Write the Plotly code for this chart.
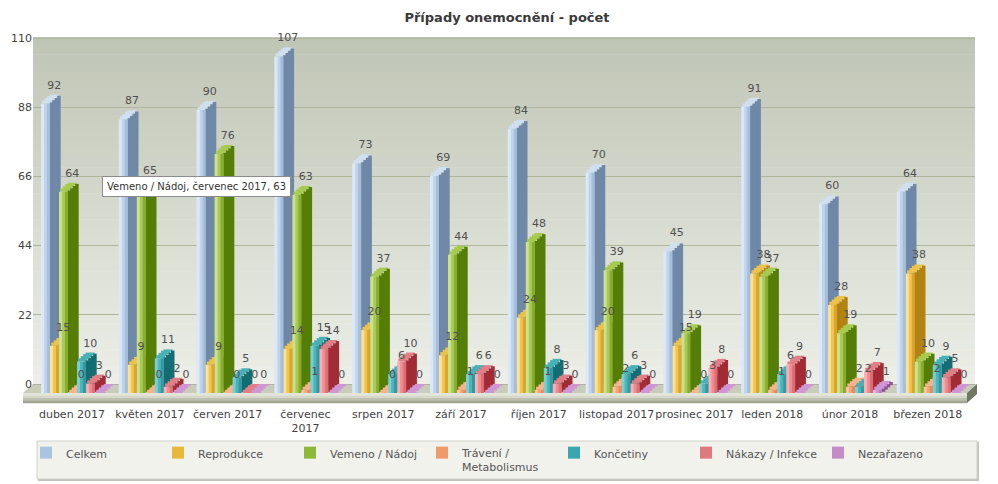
import plotly.graph_objects as go

# ---------------- data ----------------
months = ["duben 2017", "květen 2017", "červen 2017", "červenec 2017", "srpen 2017",
          "září 2017", "říjen 2017", "listopad 2017", "prosinec 2017", "leden 2018",
          "únor 2018", "březen 2018"]
month_ticks = ["duben 2017", "květen 2017", "červen 2017", "červenec<br>2017", "srpen 2017",
               "září 2017", "říjen 2017", "listopad 2017", "prosinec 2017", "leden 2018",
               "únor 2018", "březen 2018"]
series_names = ["Celkem", "Reprodukce", "Vemeno / Nádoj", "Trávení /<br>Metabolismus",
                "Končetiny", "Nákazy / Infekce", "Nezařazeno"]
celkem = [92, 87, 90, 107, 73, 69, 84, 70, 45, 91, 60, 64]
reprodukce = [15, 9, 9, 14, 20, 12, 24, 20, 15, 38, 28, 38]
vemeno = [64, 65, 76, 63, 37, 44, 48, 39, 19, 37, 19, 10]
traveni = [0, 0, 0, 1, 0, 1, 1, 2, 0, 1, 2, 2]
koncetiny = [10, 11, 5, 15, 6, 6, 8, 6, 3, 6, 2, 9]
nakazy = [3, 2, 0, 14, 10, 6, 3, 3, 8, 9, 7, 5]
nezarazeno = [0, 0, 0, 0, 0, 0, 0, 0, 0, 0, 1, 0]
y_ticks = [0, 22, 44, 66, 88, 110]
title_text = "Případy onemocnění - počet"
tooltip_text = "Vemeno / Nádoj, červenec 2017, 63"

series_values = [celkem, reprodukce, vemeno, traveni, koncetiny, nakazy, nezarazeno]

# ---------------- styles ----------------
front_cols = [
    ["#dbe9f7", "#bfd4eb", "#a4bedb"],
    ["#fbe29a", "#f1c54e", "#dca42a"],
    ["#cbe18c", "#a9ca5a", "#88ad2e"],
    ["#fbc3a2", "#f5a476", "#ea8a5a"],
    ["#7ecdd3", "#4eb4bb", "#2e9ba3"],
    ["#f7b1b5", "#ee8c92", "#de6d74"],
    ["#e3b7e4", "#d097d3", "#ba7cc0"],
]
side_cols = ["#6f88a8", "#b28310", "#557e06", "#c9622f", "#136d73", "#a22b35", "#8d4f95"]
top_cols = ["#cfe0f0", "#edc24a", "#a6cb50", "#f6b48c", "#48b0b7", "#e27f86", "#cf96d5"]
legend_cols = ["#a9c4e0", "#e8b83a", "#8fb83a", "#ef9a6a", "#3aa7ae", "#e07880", "#c48ac9"]

FONT = "DejaVu Sans"
PX = 77.8            # pixels per category
W = 9 / PX           # front face width (category units)
DX = 10 / PX         # depth, horizontal
D = 9 / 3.145        # depth, vertical (value units)
NS = 4               # slices for side/top faces
OV = 1.0 / PX        # small overlap to hide seams

fig = go.Figure()

for j, (name, vals) in enumerate(zip(series_names, series_values)):
    off = (-31 + 9 * j) / PX
    # top face (staircase)
    for k in range(NS):
        tm = (k + 0.5) / NS
        last = k == NS - 1
        fig.add_trace(go.Bar(
            x=months, y=[D / NS + (0 if last else 0.3) for v in vals],
            base=[v - D + k * D / NS for v in vals],
            offset=off + tm * DX, width=W, marker=dict(color=top_cols[j], line=dict(width=0)),
            showlegend=False, hoverinfo="skip",
        ))
    # side face (staircase)
    for k in range(NS):
        tm = (k + 0.5) / NS
        fig.add_trace(go.Bar(
            x=months, y=[v for v in vals], base=[-D + tm * D] * len(vals),
            offset=off + W - OV * 0.3 + k * DX / NS, width=DX / NS + OV,
            marker=dict(color=side_cols[j], line=dict(width=0)),
            showlegend=False, hoverinfo="skip",
        ))
    # front face in three shaded strips
    for k in range(3):
        fig.add_trace(go.Bar(
            x=months, y=vals, base=[-D] * len(vals),
            offset=off + k * W / 3, width=W / 3 + (OV if k < 2 else 0),
            marker=dict(color=front_cols[j][k], line=dict(width=0)),
            name=name, legendgroup=name,
            showlegend=False, hoverinfo="skip",
        ))
    # legend entry
    fig.add_trace(go.Bar(
        x=[months[0]], y=[None], name=name, legendgroup=name,
        marker=dict(color=legend_cols[j], line=dict(width=0)), showlegend=True, hoverinfo="skip",
    ))

# value labels, drawn above all bars
for j, vals in enumerate(series_values):
    off = (-31 + 9 * j) / PX
    tm = (NS - 0.5) / NS
    fig.add_trace(go.Bar(
        x=months, y=[D / NS] * len(vals), base=[v - D / NS for v in vals],
        offset=off + tm * DX, width=W, marker=dict(color="rgba(0,0,0,0)", line=dict(width=0)),
        showlegend=False, hoverinfo="skip",
        text=[str(v) for v in vals], textposition="outside",
        textangle=0, constraintext="none", cliponaxis=False,
        outsidetextfont=dict(family=FONT, size=11, color="#505050"),
    ))

# ---------------- decoration (wall, floor, legend box) ----------------
# the page body has an 8px margin, so the figure is 8px smaller than the window
def px_x(p):
    return (p - 33) / 942


def px_y(p):
    return (406 - p) / 376


def lerp(c1, c2, t):
    return "rgb(%d,%d,%d)" % tuple(round(a + (b - a) * t) for a, b in zip(c1, c2))


shapes = []
NB = 40
top_c, bot_c = (192, 198, 182), (236, 238, 231)
for i in range(NB):
    y0 = 37 + (384 - 37) * i / NB
    y1 = 37 + (384 - 37) * (i + 1) / NB + 0.5
    shapes.append(dict(type="rect", xref="paper", yref="paper", layer="below",
                       x0=0, x1=1, y0=px_y(y0), y1=px_y(y1),
                       fillcolor=lerp(top_c, bot_c, i / (NB - 1)), line=dict(width=0)))


def path(pts):
    return "M " + " L ".join("%.5f,%.5f" % (px_x(a), px_y(b)) for a, b in pts) + " Z"


# floor top surface
shapes.append(dict(type="path", xref="paper", yref="paper", layer="below",
                   path=path([(33, 384), (977, 384), (967, 393), (23, 393)]),
                   fillcolor="#c9ccb9", line=dict(width=0)))
# floor front slab (gradient)
slab = [(228, 229, 218), (214, 216, 202), (190, 193, 176), (160, 164, 145)]
for i, c in enumerate(slab):
    y0 = 393 + 10 * i / len(slab)
    y1 = 393 + 10 * (i + 1) / len(slab) + 0.3
    shapes.append(dict(type="path", xref="paper", yref="paper", layer="below",
                       path=path([(23, y0), (967, y0), (967, y1), (23, y1)]),
                       fillcolor="rgb(%d,%d,%d)" % c, line=dict(width=0)))
# floor right end
shapes.append(dict(type="path", xref="paper", yref="paper", layer="below",
                   path=path([(967, 393), (977, 384), (977, 394), (967, 403)]),
                   fillcolor="#707760", line=dict(width=0)))
# legend box with shadow
shapes.append(dict(type="rect", xref="paper", yref="paper", layer="below",
                   x0=px_x(38), x1=px_x(979), y0=px_y(442), y1=px_y(481),
                   fillcolor="#c4c4bc", line=dict(width=0)))
shapes.append(dict(type="rect", xref="paper", yref="paper", layer="below",
                   x0=px_x(37), x1=px_x(977), y0=px_y(441), y1=px_y(479),
                   fillcolor="#f1f2ec", line=dict(width=1, color="#cfd0c8")))

fig.update_layout(
    width=990, height=476,
    margin=dict(l=25, r=23, t=22, b=78, pad=0, autoexpand=False),
    paper_bgcolor="white", plot_bgcolor="rgba(0,0,0,0)",
    barmode="overlay",
    shapes=shapes,
    font=dict(family=FONT, size=11, color="#444"),
    title=dict(text=title_text, x=(507 - 8) / 990, xanchor="center", y=1 - 9 / 476,
               yanchor="middle",
               font=dict(family=FONT, size=13, color="#3a3a3a", weight="bold")),
    xaxis=dict(type="category", range=[-0.5013, 11.6067], showgrid=False, zeroline=False,
               showline=False, ticks="", tickvals=months, ticktext=month_ticks, tickangle=0,
               automargin=False,
               tickfont=dict(family=FONT, size=11, color="#444"), fixedrange=True),
    yaxis=dict(range=[-6.995, 112.56], tickvals=y_ticks, showgrid=True, gridcolor="#aeb59c",
               gridwidth=1, zeroline=False, showline=False, ticks="", automargin=False,
               tickfont=dict(family=FONT, size=11, color="#444"), fixedrange=True),
    legend=dict(orientation="h", x=px_x(26), xanchor="left", y=px_y(439), yanchor="top",
                bgcolor="rgba(0,0,0,0)", borderwidth=0, entrywidth=87.0,
                entrywidthmode="pixels", traceorder="normal", valign="top",
                font=dict(family=FONT, size=11, color="#555"), itemclick=False),
    annotations=[dict(text=tooltip_text, xref="paper", yref="paper", x=px_x(196), y=px_y(186),
                      xanchor="center", yanchor="middle", showarrow=False,
                      bgcolor="white", bordercolor="#8c8c8c", borderwidth=1, borderpad=4,
                      font=dict(family=FONT, size=10, color="#333"))],
    hovermode=False,
)

fig.write_html("out.html")
